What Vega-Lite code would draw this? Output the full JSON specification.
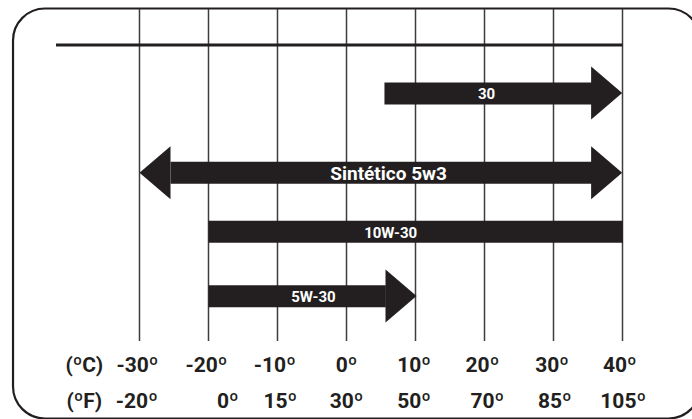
{
  "$schema": "https://vega.github.io/schema/vega-lite/v6.json",
  "width": 692,
  "height": 419,
  "padding": 0,
  "autosize": {"type": "none"},
  "background": "white",
  "config": {"view": {"stroke": null}, "text": {"font": "Roboto, sans-serif"}},
  "datasets": {
    "grid": [{"c": -30}, {"c": -20}, {"c": -10}, {"c": 0}, {"c": 10}, {"c": 20}, {"c": 30}, {"c": 40}],
    "bands": [
      {"grade": "30", "start": 5.5, "end": 35.6, "lane": 9.34, "labelAt": 20.3},
      {"grade": "Sintético 5w3", "start": -25.5, "end": 35.6, "lane": 17.28, "labelAt": 6.1},
      {"grade": "10W-30", "start": -20, "end": 40.05, "lane": 23.18, "labelAt": 6.4},
      {"grade": "5W-30", "start": -20, "end": 5.7, "lane": 29.62, "labelAt": -4.8}
    ],
    "heads": [
      {"tip": 39.95, "lane": 9.3, "dir": "right"},
      {"tip": 39.95, "lane": 17.27, "dir": "right"},
      {"tip": -30, "lane": 17.27, "dir": "left"},
      {"tip": 10.15, "lane": 29.6, "dir": "right"}
    ],
    "celsius": [
      {"pos": -38, "label": "(ºC)"},
      {"pos": -30.3, "label": "-30º"},
      {"pos": -20.3, "label": "-20º"},
      {"pos": -10.4, "label": "-10º"},
      {"pos": 0, "label": "0º"},
      {"pos": 9.8, "label": "10º"},
      {"pos": 19.7, "label": "20º"},
      {"pos": 29.8, "label": "30º"},
      {"pos": 39.6, "label": "40º"}
    ],
    "fahrenheit": [
      {"pos": -38, "label": "(ºF)"},
      {"pos": -30.4, "label": "-20º"},
      {"pos": -17.2, "label": "0º"},
      {"pos": -9.6, "label": "15º"},
      {"pos": 0, "label": "30º"},
      {"pos": 9.8, "label": "50º"},
      {"pos": 20.4, "label": "70º"},
      {"pos": 30.2, "label": "85º"},
      {"pos": 40.1, "label": "105º"}
    ]
  },
  "layer": [
    {
      "data": {"values": [{}]},
      "mark": {"type": "rect", "fill": "transparent", "stroke": "#231f20", "strokeWidth": 2.2, "cornerRadius": 32},
      "encoding": {
        "x": {"datum": -48.33, "type": "quantitative", "scale": {"domain": [-50.217, 50.072], "nice": false, "zero": false}, "axis": null},
        "x2": {"datum": 51.3},
        "y": {"datum": 0.85, "type": "quantitative", "scale": {"domain": [0, 41.9], "reverse": true, "nice": false, "zero": false}, "axis": null},
        "y2": {"datum": 41.85}
      }
    },
    {
      "data": {"name": "grid"},
      "mark": {"type": "rule", "stroke": "#3d3d3d", "strokeWidth": 1.5},
      "encoding": {
        "x": {"field": "c", "type": "quantitative"},
        "y": {"datum": 0.9, "type": "quantitative"},
        "y2": {"datum": 34.1}
      }
    },
    {
      "data": {"values": [{}]},
      "mark": {"type": "rule", "stroke": "#231f20", "strokeWidth": 3},
      "encoding": {
        "x": {"datum": -42.1, "type": "quantitative"},
        "x2": {"datum": 40},
        "y": {"datum": 4.5, "type": "quantitative"}
      }
    },
    {
      "data": {"name": "bands"},
      "mark": {"type": "rule", "stroke": "#231f20", "strokeWidth": 22, "strokeCap": "butt"},
      "encoding": {
        "x": {"field": "start", "type": "quantitative"},
        "x2": {"field": "end"},
        "y": {"field": "lane", "type": "quantitative"}
      }
    },
    {
      "data": {"name": "heads"},
      "mark": {"type": "point", "filled": true, "opacity": 1, "size": 2809, "color": "#231f20", "strokeWidth": 0},
      "encoding": {
        "x": {"field": "tip", "type": "quantitative"},
        "y": {"field": "lane", "type": "quantitative"},
        "shape": {"field": "dir", "type": "nominal", "scale": {"domain": ["right", "left"], "range": ["M -1.17 -1 L 0 0 L -1.17 1 Z", "M 1.17 -1 L 0 0 L 1.17 1 Z"]}, "legend": null}
      }
    },
    {
      "data": {"name": "bands"},
      "mark": {"type": "text", "color": "white", "fontWeight": "bold", "baseline": "middle", "align": "center", "dy": 1},
      "encoding": {
        "x": {"field": "labelAt", "type": "quantitative"},
        "y": {"field": "lane", "type": "quantitative"},
        "text": {"field": "grade"},
        "size": {"condition": {"test": "datum.grade == 'Sintético 5w3'", "value": 19}, "value": 15}
      }
    },
    {
      "data": {"name": "celsius"},
      "mark": {"type": "text", "color": "#231f20", "fontWeight": "bold", "fontSize": 21, "baseline": "alphabetic", "align": "center"},
      "encoding": {
        "x": {"field": "pos", "type": "quantitative"},
        "y": {"datum": 37.15, "type": "quantitative"},
        "text": {"field": "label"}
      }
    },
    {
      "data": {"name": "fahrenheit"},
      "mark": {"type": "text", "color": "#231f20", "fontWeight": "bold", "fontSize": 21, "baseline": "alphabetic", "align": "center"},
      "encoding": {
        "x": {"field": "pos", "type": "quantitative"},
        "y": {"datum": 40.75, "type": "quantitative"},
        "text": {"field": "label"}
      }
    }
  ]
}
